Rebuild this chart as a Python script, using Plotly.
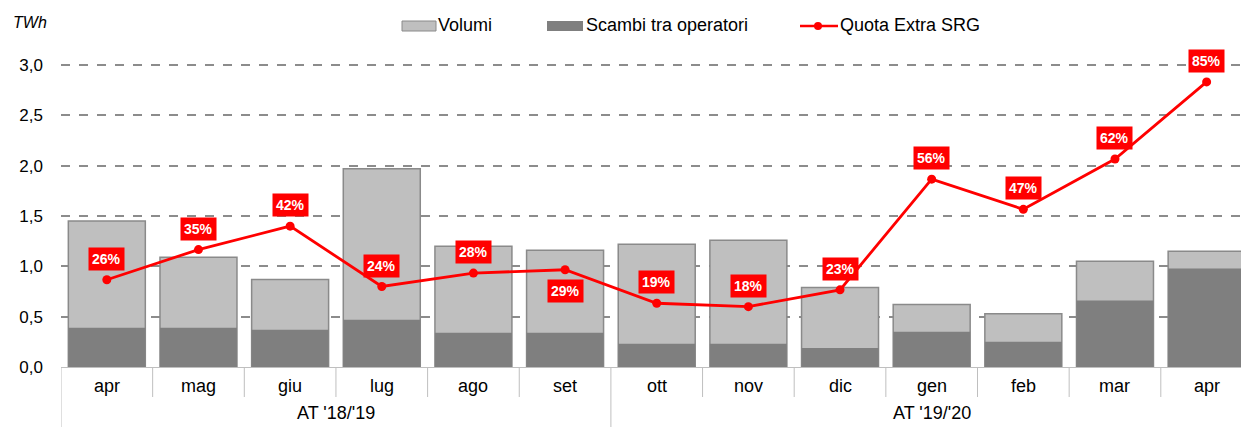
import plotly.graph_objects as go

months = ["apr", "mag", "giu", "lug", "ago", "set", "ott", "nov", "dic", "gen", "feb", "mar", "apr"]
groups = ["AT '18/'19", "AT '19/'20"]
group_sizes = [6, 7]
volumi = [1.45, 1.09, 0.87, 1.97, 1.20, 1.16, 1.22, 1.26, 0.79, 0.62, 0.53, 1.05, 1.15]
scambi = [0.39, 0.39, 0.37, 0.47, 0.34, 0.34, 0.23, 0.23, 0.19, 0.35, 0.25, 0.66, 0.98]
quota = [26, 35, 42, 24, 28, 29, 19, 18, 23, 56, 47, 62, 85]
label_below = [False, False, False, False, False, True, False, False, False, False, False, False, False]
series_names = ["Volumi", "Scambi tra operatori", "Quota Extra SRG"]

FONT = "Liberation Sans, Arial, sans-serif"
C_VOL, C_VOL_EDGE, C_SCA, C_RED = "#BFBFBF", "#8A8A8A", "#7F7F7F", "#FF0000"
x = list(range(len(months)))
ymax = 3.2
W, H = 1241, 427
ML, MR, MT, MB = 61, 0, 45, 60

fig = go.Figure()
fig.add_trace(go.Bar(x=x, y=volumi, name=series_names[0], width=0.84,
                     marker=dict(color=C_VOL, line=dict(color=C_VOL_EDGE, width=1.5))))
fig.add_trace(go.Bar(x=x, y=scambi, name=series_names[1], width=0.84,
                     marker=dict(color=C_SCA, line=dict(width=0))))
fig.add_trace(go.Scatter(x=x, y=quota, name=series_names[2], yaxis="y2",
                         mode="lines+markers", line=dict(color=C_RED, width=2.8),
                         marker=dict(color=C_RED, size=9)))

annotations = []
for i, q in enumerate(quota):
    annotations.append(dict(x=i, y=q, xref="x", yref="y2", text=f"<b>{q}%</b>",
                            showarrow=False, font=dict(color="white", size=14, family=FONT),
                            bgcolor=C_RED, borderpad=3,
                            yshift=-21 if label_below[i] else 21))

# helpers: pixel -> paper coordinates
pw, ph = W - ML - MR, H - MT - MB
px = lambda p: (p - ML) / pw
py = lambda p: (H - MB - p) / ph

for i, m in enumerate(months):
    annotations.append(dict(x=i, y=py(386), xref="x", yref="paper", text=m, showarrow=False,
                            font=dict(size=18, color="black", family=FONT), yanchor="middle"))

shapes = []
start = 0
for g, n in zip(groups, group_sizes):
    annotations.append(dict(x=start + (n - 1) / 2, y=py(413), xref="x", yref="paper", text=g,
                            showarrow=False, font=dict(size=18, color="black", family=FONT),
                            yanchor="middle"))
    shapes.append(dict(type="line", xref="x", yref="paper", x0=start - 0.5, x1=start - 0.5,
                       y0=0, y1=py(430), line=dict(color="#BFBFBF", width=1)))
    for k in range(1, n):
        shapes.append(dict(type="line", xref="x", yref="paper", x0=start + k - 0.5,
                           x1=start + k - 0.5, y0=0, y1=py(397),
                           line=dict(color="#BFBFBF", width=1)))
    start += n

annotations.append(dict(x=px(11), y=py(22), xref="paper", yref="paper", text="<i>TWh</i>",
                        showarrow=False, xanchor="left", yanchor="middle",
                        font=dict(size=16, color="black", family=FONT)))

# custom legend (wide swatches like the reference)
ly = 26
shapes.append(dict(type="rect", xref="paper", yref="paper", x0=px(402), x1=px(436),
                   y0=py(ly + 5), y1=py(ly - 5), fillcolor=C_VOL,
                   line=dict(color=C_VOL_EDGE, width=1)))
shapes.append(dict(type="rect", xref="paper", yref="paper", x0=px(547), x1=px(583),
                   y0=py(ly + 5), y1=py(ly - 5), fillcolor=C_SCA, line=dict(width=0)))
shapes.append(dict(type="line", xref="paper", yref="paper", x0=px(800), x1=px(838),
                   y0=py(ly), y1=py(ly), line=dict(color=C_RED, width=2.5)))
shapes.append(dict(type="circle", xref="paper", yref="paper", x0=px(814), x1=px(822),
                   y0=py(ly + 4), y1=py(ly - 4), fillcolor=C_RED, line=dict(width=0)))
for name, xp in zip(series_names, [436, 584, 838]):
    annotations.append(dict(x=px(xp), y=py(ly - 1), xref="paper", yref="paper", text=name,
                            showarrow=False, xanchor="left", yanchor="middle",
                            font=dict(size=18, color="black", family=FONT)))

fig.update_layout(
    width=W, height=H,
    margin=dict(l=ML, r=MR, t=MT, b=MB, autoexpand=False),
    paper_bgcolor="white", plot_bgcolor="white",
    barmode="overlay",
    separators=",.",
    font=dict(family=FONT, size=17, color="black"),
    showlegend=False,
    xaxis=dict(range=[-0.5, 12.375], tickvals=[], showticklabels=False, showgrid=False,
               zeroline=False, showline=True, linecolor="#BFBFBF", linewidth=1),
    yaxis=dict(range=[0, ymax], dtick=0.5, tickformat=".1f", showgrid=True,
               gridcolor="#8C8C8C", griddash="dash", gridwidth=2, zeroline=False,
               showline=False, ticks="", tickfont=dict(size=17, family=FONT),
               ticklabelstandoff=17),
    yaxis2=dict(range=[0, ymax * 30], overlaying="y", side="right", visible=False),
    annotations=annotations,
    shapes=shapes,
)

fig.write_html("out.html", config={"displayModeBar": False},
               post_script="document.body.style.margin='0';document.body.style.overflow='hidden';")
